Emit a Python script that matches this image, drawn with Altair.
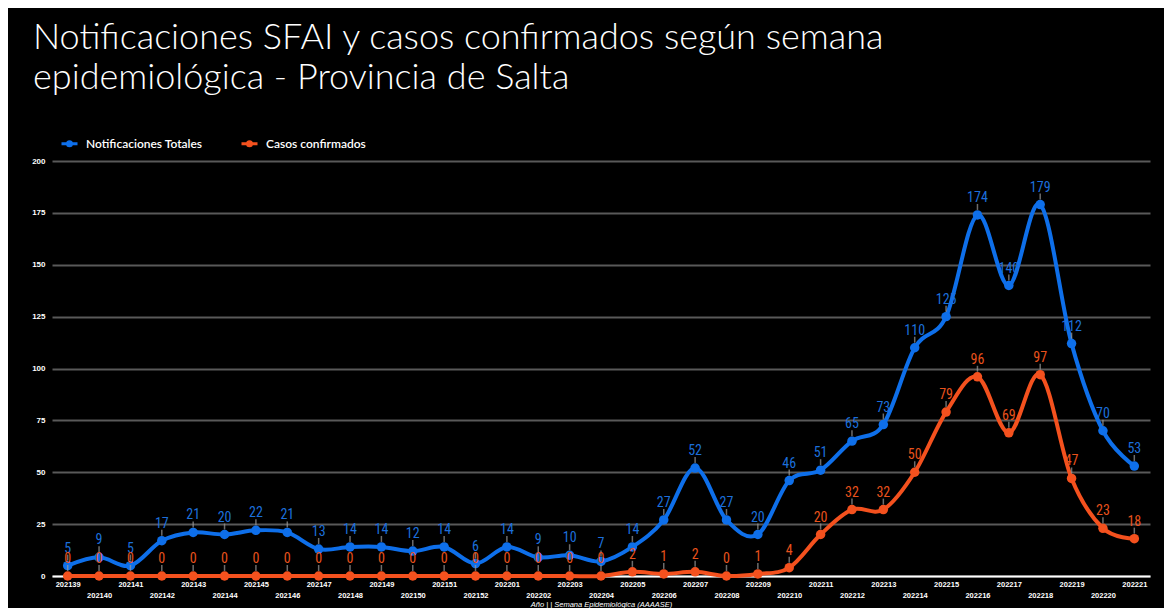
import altair as alt
import pandas as pd

weeks = ["202139", "202140", "202141", "202142", "202143", "202144", "202145", "202146",
         "202147", "202148", "202149", "202150", "202151", "202152",
         "202201", "202202", "202203", "202204", "202205", "202206", "202207", "202208",
         "202209", "202210", "202211", "202212", "202213", "202214", "202215", "202216",
         "202217", "202218", "202219", "202220", "202221"]
notificaciones = [5, 9, 5, 17, 21, 20, 22, 21, 13, 14, 14, 12, 14, 6,
                  14, 9, 10, 7, 14, 27, 52, 27, 20, 46, 51, 65, 73, 110, 125, 174,
                  140, 179, 112, 70, 53]
confirmados = [0, 0, 0, 0, 0, 0, 0, 0, 0, 0, 0, 0, 0, 0,
               0, 0, 0, 0, 2, 1, 2, 0, 1, 4, 20, 32, 32, 50, 79, 96,
               69, 97, 47, 23, 18]
series_names = ["Notificaciones Totales", "Casos confirmados"]
line_colors = ["#0E6FEA", "#F4511E"]
label_colors = ["#1C6FDB", "#E8521C"]
y_ticks = [0, 25, 50, 75, 100, 125, 150, 175, 200]
title_lines = ["Notificaciones SFAI y casos confirmados según semana",
               "epidemiológica - Provincia de Salta"]
x_title = "Año | | Semana Epidemiológica (AAAASE)"

rows = []
for s, vals in zip(series_names, [notificaciones, confirmados]):
    for w, v in zip(weeks, vals):
        rows.append({"semana": w, "serie": s, "valor": v})
df = pd.DataFrame(rows)

x_enc = alt.X(
    "semana:O", sort=weeks,
    scale=alt.Scale(type="point", padding=0.5),
    axis=alt.Axis(
        title=x_title, labelAngle=0, ticks=False, tickSize=0,
        labelColor="white", labelFont="Liberation Sans", labelFontWeight="bold",
        labelFontSize=7.5,
        labelPadding={"condition": {"test": "toNumber(datum.value) % 2 == 0", "value": 15}, "value": 4},
        labelOverlap=False,
        domainColor="white", domainWidth=2,
        titleColor="white", titleFont="Liberation Sans", titleFontStyle="italic",
        titleFontWeight="normal", titleFontSize=7.5, titlePadding=2,
        grid=False,
    ),
)
y_enc = alt.Y(
    "valor:Q",
    scale=alt.Scale(domain=[0, 200]),
    axis=alt.Axis(
        values=y_ticks, title=None, domain=False, ticks=False, tickSize=0,
        labelColor="white", labelFont="Liberation Sans", labelFontWeight="bold",
        labelFontSize=8, labelPadding=7,
        gridColor="#595959", gridWidth=2,
    ),
)

color_enc = alt.Color(
    "serie:N",
    scale=alt.Scale(domain=series_names, range=line_colors),
    sort=series_names,
    legend=alt.Legend(
        orient="none", legendX=8, legendY=-27, direction="horizontal", title=None,
        symbolType="M-1,0H1M0.25,0A0.25,0.25 0 1,1 -0.25,0A0.25,0.25 0 1,1 0.25,0Z",
        symbolSize=256, symbolStrokeWidth=3,
        labelColor="white", labelFont="Lato", labelFontSize=12, labelFontWeight=600,
        labelOffset=7, columnPadding=32, padding=0,
    ),
)

base = alt.Chart(df)

lines = base.mark_line(interpolate="cardinal", strokeWidth=4).encode(
    x=x_enc, y=y_enc, color=color_enc, order=alt.Order("semana:O")
)
points = base.mark_circle(size=90, opacity=1).encode(
    x=x_enc, y=y_enc, color=alt.Color("serie:N", legend=None)
)
leaders = base.mark_tick(orient="vertical", size=6, thickness=1.5, yOffset=-8, color="#9a9a9a").encode(
    x=x_enc, y=y_enc
)
labels = base.mark_text(
    dy=-13, baseline="alphabetic", fontSize=14,
    font="Liberation Sans Narrow, Roboto Condensed, Lato, sans-serif",
).encode(
    x=x_enc, y=y_enc, text="valor:Q",
    color=alt.condition(alt.datum.serie == series_names[0],
                        alt.value(label_colors[0]), alt.value(label_colors[1])),
)

chart = alt.layer(lines, points, leaders, labels).properties(
    width=1098, height=415,
    title=alt.Title(
        title_lines, anchor="start", frame="group", dx=-19, offset=37,
        font="Lato", fontWeight=300, fontSize=36, color="white", lineHeight=40,
    ),
    autosize=alt.AutoSizeParams(type="none"),
    padding={"left": 44, "top": 153, "right": 14, "bottom": 32},
    background="black",
).configure_view(stroke=None)

chart.save("out.html", embed_options={"renderer": "svg", "actions": False})
